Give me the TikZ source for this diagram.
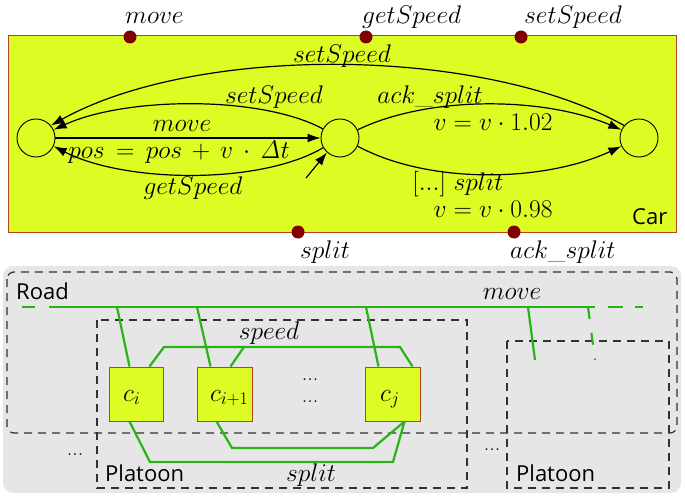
\RequirePackage{fix-cm}
\documentclass[tikz,border=0pt]{standalone}
\usepackage[no-math]{fontspec}
\setsansfont{Open Sans}
\usetikzlibrary{arrows.meta,calc}
\definecolor{carfill}{RGB}{220,252,36}
\definecolor{carborder}{RGB}{180,70,40}
\definecolor{dotred}{RGB}{128,0,0}
\definecolor{bggrey}{RGB}{230,230,230}
\definecolor{busgreen}{RGB}{40,180,20}
\definecolor{dashgrey}{RGB}{50,50,50}
\begin{document}
\begin{tikzpicture}[x=1pt,y=-1pt,
  mathlbl/.style={font=\fontsize{25.5}{30}\selectfont, inner sep=0pt},
  sanslbl/.style={font=\sffamily\fontsize{22}{26}\selectfont, inner sep=0pt},
  dotslbl/.style={font=\fontsize{22}{26}\selectfont, inner sep=0pt, anchor=base},
  state/.style={draw, circle, minimum size=38pt, inner sep=0pt, line width=0.9pt},
  trans/.style={draw, line width=1.2pt, -{Latex[length=13pt,width=9pt]}},
  port/.style={circle, fill=dotred, minimum size=13pt, inner sep=0pt},
  carbox/.style={draw=carborder, fill=carfill, line width=1pt, minimum width=55pt, minimum height=54pt, inner sep=0pt},
  gline/.style={draw=busgreen, line width=2.2pt},
  cont/.style={draw=dashgrey, line width=1.2pt, dash pattern=on 8pt off 6pt},
]
\useasboundingbox (0,0) rectangle (685,497);

% ---------- Car automaton ----------
\node[draw=carborder, fill=carfill, line width=1pt, minimum width=668pt, minimum height=196pt, inner sep=0pt] (car) at (342,134) {};
\node[sanslbl, anchor=base west] (carlbl) at (632,225) {Car};

\node[port] (pmove) at (130,37) {};
\node[port] (pget) at (366,37) {};
\node[port] (pset) at (521,37) {};
\node[port] (psplit) at (298,232) {};
\node[port] (pack) at (514,232) {};
\node[mathlbl, anchor=base west] (lmove) at (125,24) {$move$};
\node[mathlbl, anchor=base west] (lget) at (362,24) {$getSpeed$};
\node[mathlbl, anchor=base west] (lset) at (524,24) {$setSpeed$};
\node[mathlbl, anchor=base west] (lsplit) at (300,258) {$split$};
\node[mathlbl, anchor=base west] (lack) at (510,258) {$ack\_split$};

\node[state] (L) at (36,138) {};
\node[state] (M) at (340,138) {};
\node[state] (R) at (639,138) {};

\draw[trans] (R.140) .. controls (480,45) and (195,45) .. (L.40);
\draw[trans] (M.152) .. controls (260,95) and (125,97) .. (L.25);
\draw[trans] (L.0) -- (M.180);
\draw[trans] (M.210) .. controls (260,185) and (125,183) .. (L.-25);
\coordinate (init) at (306,178);
\draw[trans] (init) -- (M.228);
\draw[trans] (M.25) .. controls (430,95) and (545,97) .. (R.155);
\draw[trans] (M.-25) .. controls (430,185) and (545,182) .. (R.205);

\node[mathlbl, anchor=base] (e1) at (342,63) {$setSpeed$};
\node[mathlbl, anchor=base] (e2) at (274,104) {$setSpeed$};
\node[mathlbl, anchor=base] (e3) at (182,132) {$move$};
\node[mathlbl, anchor=base] (e4) at (179,159) {$pos \,=\, pos \,+\, v \,\cdot\, \mathit{\Delta} t$};
\node[mathlbl, anchor=base] (e5) at (193,195) {$getSpeed$};
\node[mathlbl, anchor=base] (e6) at (430,104) {$ack\_split$};
\node[mathlbl, anchor=base] (e7) at (493,131) {$v = v \cdot 1.02$};
\node[mathlbl, anchor=base] (e8) at (458,190) {$[...]\ split$};
\node[mathlbl, anchor=base] (e9) at (493,218) {$v = v \cdot 0.98$};

% ---------- Road ----------
\fill[bggrey, rounded corners=10pt] (3,266) rectangle (681,493);
\draw[cont, rounded corners=7pt] (7,272) rectangle (677,433);
\draw[cont] (97,320) rectangle (467,488);
\draw[cont] (507,341) rectangle (669,488);
\node[sanslbl, anchor=base west] (road) at (16,299) {Road};
\node[sanslbl, anchor=base west] (plat1) at (105,481) {Platoon};
\node[sanslbl, anchor=base west] (plat2) at (516,481) {Platoon};
\node[dotslbl] (dl) at (75,455) {...};
\node[dotslbl] (dr) at (492,450) {...};
\node[dotslbl] (dm1) at (310,380) {...};
\node[dotslbl] (dm2) at (310,402) {...};

\node[carbox, minimum width=54pt] (ci) at (136,394) {};
\node[carbox] (cip) at (224.5,394) {};
\node[carbox] (cj) at (392.5,394) {};
\node[mathlbl, anchor=base west] (tci) at (123,401) {$c_i$};
\node[mathlbl, anchor=base west] (tcip) at (210,401) {$c_{i+1}$};
\node[mathlbl, anchor=base west] (tcj) at (380,401) {$c_j$};

% move bus
\coordinate (m0) at (22,307);
\coordinate (m1) at (35,307);
\coordinate (m2) at (49,307);
\coordinate (m3) at (595,307);
\coordinate (m4) at (608,307);
\coordinate (m5) at (623,307);
\coordinate (m6) at (635,307);
\coordinate (m7) at (643,307);
\draw[gline] (m0) -- (m1);
\draw[gline] (m2) -- (m3);
\draw[gline] (m4) -- (m5);
\draw[gline] (m6) -- (m7);
\coordinate (mi) at (117,307);
\coordinate (mip) at (197,307);
\coordinate (mj) at (366,307);
\coordinate (mr) at (528,307);
\coordinate (mrd) at (588,307);
\coordinate (er) at (535,360);
\coordinate (erd) at (595,360);
\draw[gline] (mi) -- ([xshift=21pt]ci.north west);
\draw[gline] (mip) -- ([xshift=14pt]cip.north west);
\draw[gline] (mj) -- ([xshift=14pt]cj.north west);
\draw[gline] (mr) -- (er);
\draw[gline, dash pattern=on 12pt off 14pt] (mrd) -- (erd);
\node[mathlbl, anchor=base] (lbmove) at (512,299) {$move$};

% speed bus
\draw[gline] ([xshift=41pt]ci.north west) -- (164,347) -- (400,347) -- ([xshift=48pt]cj.north west);
\draw[gline] ([xshift=34pt]cip.north west) -- (244,347);
\node[mathlbl, anchor=base] (lbspeed) at (269,339) {$speed$};

% split bus
\draw[gline] ([xshift=21pt]ci.south west) -- (150,462) -- (393,462) -- ([xshift=40pt]cj.south west);
\draw[gline] ([xshift=20pt]cip.south west) -- (232,448) -- (373,448) -- ([xshift=40pt]cj.south west);
\node[mathlbl, anchor=base] (lbsplit) at (311,481) {$split$};
\end{tikzpicture}
\end{document}
